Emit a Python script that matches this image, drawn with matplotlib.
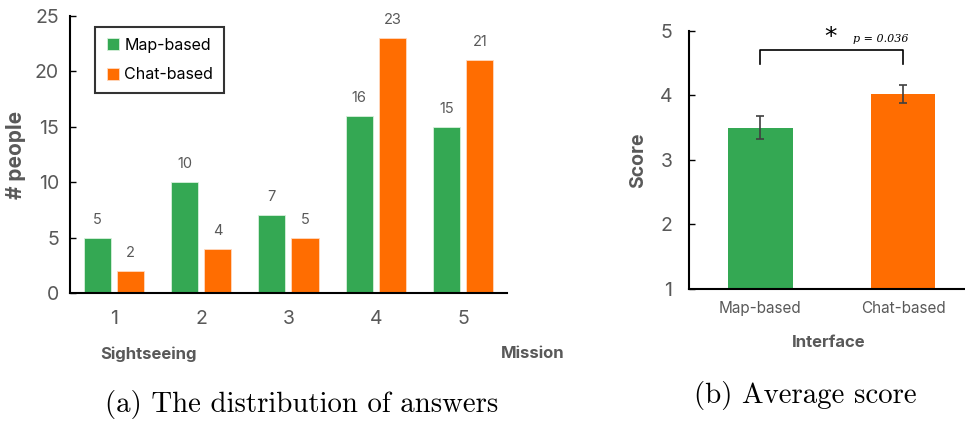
import matplotlib.pyplot as plt
import numpy as np

plt.rcParams['font.family'] = ['Inter', 'DejaVu Sans']

# answer distribution (1 = sightseeing ... 5 = mission)
answers = [1, 2, 3, 4, 5]
map_counts = [5, 10, 7, 16, 15]
chat_counts = [2, 4, 5, 23, 21]

# average score per interface
interfaces = ['Map-based', 'Chat-based']
score_mean = [3.5, 4.03]
score_err = [0.18, 0.14]
p_value = 0.036

green = '#34A853'
orange = '#FF6D01'
gray = '#595959'

fig = plt.figure(figsize=(9.65, 4.22), dpi=100)

# (a) distribution of answers
ax1 = fig.add_axes([0.0725, 0.3057, 0.4528, 0.6564])
x = np.array(answers)
w = 0.31
b1 = ax1.bar(x - 0.19, map_counts, w, color=green, edgecolor='#d8f0dc', linewidth=0.6, label='Map-based')
b2 = ax1.bar(x + 0.19, chat_counts, w, color=orange, edgecolor='#ffd9c0', linewidth=0.6, label='Chat-based')
for bars in (b1, b2):
    for r in bars:
        ax1.text(r.get_x() + r.get_width() / 2, r.get_height() + 1.0, str(int(r.get_height())),
                 ha='center', va='bottom', fontsize=10.5, color=gray)
ax1.set_xlim(0.5, 5.5)
ax1.set_ylim(0, 25)
ax1.set_yticks([0, 5, 10, 15, 20, 25])
ax1.set_xticks(answers)
ax1.tick_params(axis='y', direction='in', length=4, width=1, labelsize=14, labelcolor=gray, pad=8)
ax1.tick_params(axis='x', length=0, labelsize=14, labelcolor=gray, pad=12)
for s in ('top', 'right'):
    ax1.spines[s].set_visible(False)
for s in ('left', 'bottom'):
    ax1.spines[s].set_linewidth(1.5)
ax1.set_ylabel('# people', fontsize=15, color=gray, fontweight='bold', labelpad=6)
leg = ax1.legend(loc='upper left', bbox_to_anchor=(0.04, 0.99), fontsize=11.5, frameon=True,
                 fancybox=False, edgecolor='black', handlelength=0.8, handleheight=0.8,
                 handletextpad=0.3, labelspacing=0.9, borderpad=0.7)
leg.get_frame().set_linewidth(1.5)
ax1.text(0.07, -0.22, 'Sightseeing', transform=ax1.transAxes, ha='left', va='center',
         fontsize=12, color=gray, fontweight='bold')
ax1.text(1.06, -0.22, 'Mission', transform=ax1.transAxes, ha='center', va='center',
         fontsize=12, color=gray, fontweight='bold')

# (b) average score
ax2 = fig.add_axes([0.714, 0.3152, 0.29, 0.6114])
bx = np.arange(len(interfaces))
ax2.bar(bx, np.array(score_mean) - 1, 0.45, bottom=1, color=[green, orange],
        yerr=score_err, ecolor='#404040', capsize=3, error_kw={'elinewidth': 1.2, 'capthick': 1.2})
ax2.set_xlim(-0.5, 1.46)
ax2.set_ylim(1, 5)
ax2.set_yticks([1, 2, 3, 4, 5])
ax2.set_xticks(bx)
ax2.set_xticklabels(interfaces)
ax2.tick_params(axis='y', direction='in', length=4, width=1, labelsize=14, labelcolor=gray, pad=12)
ax2.tick_params(axis='x', length=0, labelsize=11, labelcolor=gray, pad=9)
for s in ('top', 'right'):
    ax2.spines[s].set_visible(False)
for s in ('left', 'bottom'):
    ax2.spines[s].set_linewidth(1.5)
ax2.set_ylabel('Score', fontsize=14, color=gray, fontweight='bold', labelpad=9)
ax2.set_xlabel('Interface', fontsize=12, color=gray, fontweight='bold', labelpad=13)

# significance bracket
ax2.plot([0, 0, 1, 1], [4.49, 4.70, 4.70, 4.49], color='black', lw=1.2, clip_on=False)
ax2.text(0.49, 4.9, '*', ha='center', va='center', fontsize=18, color='black',
         family='DejaVu Sans')
ax2.text(0.84, 4.87, 'p = %.3f' % p_value, ha='center', va='center', fontsize=8,
         family='DejaVu Serif', style='italic', color='black')

# captions
fig.text(0.313, 0.008, '(a) The distribution of answers', ha='center', va='bottom',
         fontsize=20.8, family='cmr10')
fig.text(0.835, 0.028, '(b) Average score', ha='center', va='bottom',
         fontsize=20.8, family='cmr10')

fig.savefig('out.png', dpi=100)
